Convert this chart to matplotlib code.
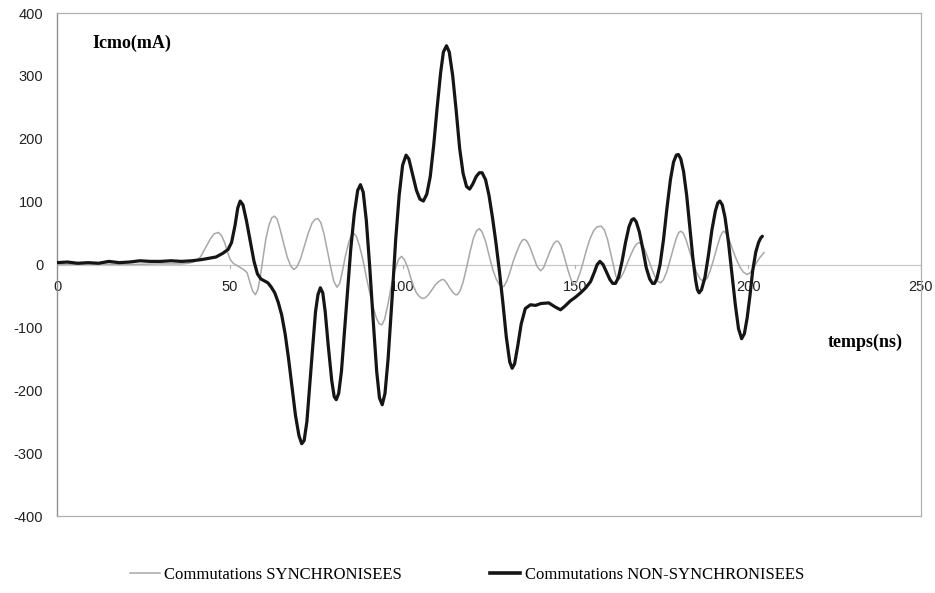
import matplotlib
matplotlib.use("Agg")
import matplotlib.pyplot as plt
from matplotlib.lines import Line2D

# ---- data (time in ns, current in mA) ----
x_nonsync = [0, 3, 6, 9, 12, 15, 18, 21, 24, 27, 30, 33, 36, 39, 42, 44, 46, 48, 49.5, 50.5,
             51.5, 52.3, 53, 53.8, 54.8, 56, 57, 58, 59, 60, 61, 62, 63, 64, 65, 66, 67, 68, 69,
             70, 70.8, 71.5, 72.3, 73, 74, 74.8, 75.5, 76.2, 76.9, 77.6, 78.5, 79.5, 80.2, 80.8,
             81.5, 82.3, 83, 84, 85, 86, 87, 87.8, 88.6, 89.5, 90.5, 91.5, 92.5, 93.3, 94.1,
             94.9, 95.8, 97, 98, 99, 100, 101, 101.8, 102.8, 104, 105, 106, 107, 108, 109, 110,
             111, 111.8, 112.7, 113.5, 114.5, 115.5, 116.5, 117.5, 118.5, 119.4, 120.3, 121.3,
             122.2, 123, 124, 125, 126, 127, 128, 129, 130, 131, 131.7, 132.4, 133.3, 134.3,
             135.5, 137, 138.5, 140, 142.3, 144, 145.7, 147, 148.5, 150, 151.5, 153, 154.4,
             155.5, 156.3, 157.1, 158, 159, 160, 160.8, 161.6, 162.5, 163.5, 164.5, 165.5, 166.3,
             166.9, 167.6, 168.5, 169.5, 170.5, 171.5, 172.3, 172.9, 173.6, 174.5, 175.5, 176.5,
             177.5, 178.4, 179.2, 179.8, 180.5, 181.3, 182.2, 183, 184, 184.8, 185.3, 185.8,
             186.5, 187.5, 188.5, 189.5, 190.5, 191.2, 191.8, 192.5, 193.3, 194.3, 195.3, 196.3,
             197.2, 198.1, 198.9, 199.7, 200.5, 201.3, 202.2, 203, 203.6, 204.1]
y_nonsync = [3, 4, 2, 3, 2, 5, 3, 4, 6, 5, 5, 6, 5, 6, 8, 10, 12, 18, 24, 35,
             62, 90, 101, 95, 70, 35, 5, -15, -23, -26, -29, -36, -45, -60, -80, -110, -150, -195, -240,
             -272, -285, -280, -250, -200, -130, -75, -48, -37, -45, -75, -130, -185, -210, -215,
             -205, -170, -120, -50, 25, 80, 118, 127, 115, 70, -5, -90, -170, -212, -223,
             -205, -150, -50, 40, 110, 158, 174, 168, 145, 118, 104, 101, 112, 140, 190, 250,
             305, 338, 348, 338, 300, 245, 185, 145, 124, 120, 128, 140,
             146, 146, 135, 110, 75, 35, -10, -60, -115, -155, -165, -158, -130, -95,
             -70, -64, -65, -62, -61, -67, -72, -66, -58, -52, -45, -37, -27,
             -12, 0, 5, 0, -12, -24, -30, -30, -20, 5, 35, 60, 71,
             73, 68, 52, 25, -5, -23, -30, -30, -22, 0, 40, 90,
             135, 163, 174, 175, 168, 148, 110, 65, 10, -25, -40, -45,
             -40, -20, 15, 55, 85, 98, 101, 95, 75, 35, -15, -65,
             -102, -118, -110, -85, -50, -10, 20, 35, 42, 45]

x_sync = [0, 10, 20, 30, 36, 38, 40, 41.5, 43, 44.5, 45.5, 46.7, 47.6, 48.5, 49.3, 50.1, 51,
          52.5, 54, 55, 55.8, 56.6, 57.4, 58.1, 58.8, 59.6, 60.4, 61.3, 62.1, 62.9, 63.7, 64.6,
          65.6, 66.6, 67.6, 68.5, 69.4, 70.4, 71.5, 72.7, 73.8, 74.7, 75.5, 76.3, 77.2, 78.2,
          79.2, 80.1, 81, 81.8, 82.6, 83.5, 84.4, 85.1, 85.8, 86.6, 87.5, 88.5, 89.5, 90.5,
          91.5, 92.4, 93.2, 94, 94.8, 95.8, 96.8, 97.8, 98.8, 99.7, 100.5, 101.5, 102.3, 103.2,
          104, 104.7, 105.6, 106.5, 107.5, 108.5, 109.5, 110.5, 111.3, 111.9, 112.6, 113.5,
          114.5, 115.3, 115.8, 116.6, 117.5, 118.5, 119.5, 120.5, 121.4, 122.2, 123, 124, 125,
          126, 127, 128, 128.7, 129.3, 130.1, 131, 132, 133, 134, 134.7, 135.3, 136, 136.9,
          137.9, 138.9, 139.9, 140.8, 141.7, 142.7, 143.7, 144.4, 145, 145.8, 146.8, 147.8,
          148.8, 149.6, 150.4, 151.3, 152.3, 153.3, 154.3, 155.3, 156.3, 157.5, 158.4, 159.3,
          160.2, 161, 161.7, 162.3, 163, 164, 165, 166, 167, 167.8, 168.5, 169.3, 170.2, 171.2,
          172.2, 173.1, 173.9, 174.7, 175.5, 176.4, 177.3, 178.3, 179.2, 179.9, 180.5, 181.2,
          182.1, 183.1, 184.1, 185.1, 186.1, 187.2, 188.1, 189, 190, 191, 191.9, 192.5, 193,
          193.7, 194.6, 195.6, 196.6, 197.6, 198.6, 199.7, 200.6, 201.5, 202.4, 203.5, 204.6]
y_sync = [0, 1, 0, 1, 1, 2, 5, 12, 27, 42, 49, 51, 46, 35, 20, 8, 2,
          -3, -8, -13, -28, -42, -48, -40, -20, 10, 40, 62, 74, 77, 72, 55,
          33, 12, -2, -8, -4, 8, 28, 50, 66, 72, 73, 67, 50, 23,
          -5, -27, -36, -30, -10, 15, 35, 46, 50, 45, 30, 8, -20, -45,
          -68, -85, -94, -96, -87, -62, -32, -8, 8, 13, 8, -5, -20, -35,
          -45, -50, -54, -53, -48, -40, -32, -27, -24, -24, -28, -36,
          -44, -48, -48, -42, -28, -5, 20, 42, 54, 57, 52, 37, 15,
          -6, -22, -32, -35, -35, -27, -13, 5, 20, 33, 39, 40, 37, 27,
          12, -3, -10, -5, 8, 22, 33, 37, 37, 30, 12, -8,
          -25, -32, -27, -14, 5, 25, 42, 54, 60, 61, 55, 40,
          18, -2, -18, -24, -22, -12, 2, 15, 27, 33, 35, 32, 22, 7,
          -8, -20, -27, -29, -24, -12, 5, 25, 42, 51, 53, 50,
          38, 20, 2, -13, -23, -27, -22, -10, 8, 28, 44, 51, 53,
          49, 38, 22, 8, -4, -12, -16, -13, -6, 3, 12, 19]

x_ticks = [0, 50, 100, 150, 200, 250]
y_ticks = [-400, -300, -200, -100, 0, 100, 200, 300, 400]
label_sync = "Commutations SYNCHRONISEES"
label_nonsync = "Commutations NON-SYNCHRONISEES"
y_title = "Icmo(mA)"
x_title = "temps(ns)"

# ---- figure ----
fig = plt.figure(figsize=(9.35, 5.93), dpi=100)
ax = fig.add_axes([0.061, 0.1298, 0.924, 0.8482])

ax.plot(x_sync, y_sync, color="#a8a8a8", lw=1.1, solid_joinstyle="round", zorder=3)
ax.plot(x_nonsync, y_nonsync, color="#151515", lw=2.3, solid_joinstyle="round",
        solid_capstyle="round", zorder=4)

ax.set_xlim(0, 250)
ax.set_ylim(-400, 400)
ax.axhline(0, color="#c8c8c8", lw=0.9, zorder=1)

for s in ["top", "right", "bottom"]:
    ax.spines[s].set_color("#b0b0b0")
    ax.spines[s].set_linewidth(0.9)
ax.spines["left"].set_color("#909090")
ax.spines["left"].set_linewidth(1.0)

ax.set_yticks(y_ticks)
ax.set_yticklabels([str(v) for v in y_ticks], fontsize=10.5, family="Liberation Sans",
                   color="#222222")
ax.tick_params(axis="y", length=0, pad=10)

ax.set_xticks([])
for xv in x_ticks:
    ax.text(xv, -35, str(xv), ha="center", va="center", fontsize=10.5,
            family="Liberation Sans", color="#222222", zorder=2)
    ax.plot([xv, xv], [0, -6], color="#b0b0b0", lw=0.8, zorder=1)

ax.text(10.3, 352, y_title, fontsize=13, fontweight="bold", family="Liberation Serif",
        ha="left", va="center")
ax.text(223, -123, x_title, fontsize=13, fontweight="bold", family="Liberation Serif",
        ha="left", va="center")

handles = [Line2D([], [], color="#a8a8a8", lw=1.1),
           Line2D([], [], color="#151515", lw=2.6)]
fig.legend(handles, [label_sync, label_nonsync], loc="center", bbox_to_anchor=(0.4995, 0.03),
           ncol=2, frameon=False, handlelength=1.8, handletextpad=0.25, columnspacing=5.3,
           prop={"family": "Liberation Serif", "size": 12})

fig.savefig("out.png", dpi=100)
